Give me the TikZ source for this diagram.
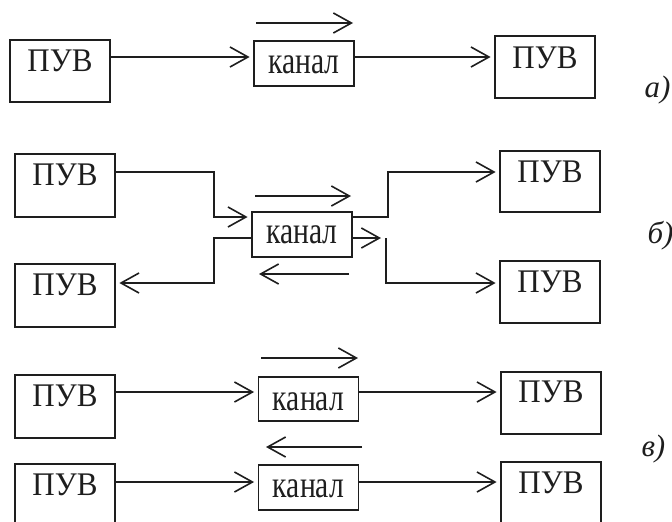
\documentclass[tikz,border=0pt]{standalone}
\usepackage{fontspec}
\setmainfont{Liberation Serif}
\usetikzlibrary{arrows.meta}
\definecolor{ink}{HTML}{1E1E1E}
\newcommand{\kanal}{\scalebox{0.78}[1]{канал}}
\newcommand{\puvtxt}{\scalebox{0.94}[1]{ПУВ}}
\begin{document}
\begin{tikzpicture}[x=1pt,y=-1pt,
  puv/.style={draw=ink, line width=1.8pt, inner sep=0pt, minimum width=100pt, anchor=base, text=ink, font=\fontsize{33}{33}\selectfont},
  kan/.style={draw=ink, line width=1.8pt, inner sep=0pt, minimum width=100pt, anchor=base, text=ink, font=\fontsize{38}{38}\selectfont},
  arr/.style={draw=ink, line width=1.6pt, -{Straight Barb[length=18pt,width=20pt]}, shorten >=3.5pt},
  free/.style={arr, shorten >=0pt},
  lbl/.style={anchor=base west, text=ink, font=\fontsize{31}{31}\selectfont\itshape}]
\useasboundingbox (0,0) rectangle (672,522);

% ---- a)
\node[puv, text height=31pt, text depth=31pt] (a1) at (60,71) {\puvtxt};
\node[kan, text height=32pt, text depth=13pt] (a2) at (304,73) {\kanal};
\node[puv, text height=32pt, text depth=30pt] (a3) at (545,68) {\puvtxt};
\coordinate (ya) at (0,57);
\draw[arr] (a1.east |- ya) -- (a2.west |- ya);
\draw[arr] (a2.east |- ya) -- (a3.west |- ya);
\coordinate (aos) at (256,23);
\coordinate (aoe) at (353,23);
\draw[free] (aos) -- (aoe);
\node[lbl] (la) at (641,97) {а)};

% ---- b)
\node[puv, text height=31pt, text depth=32pt] (b1) at (65,185) {\puvtxt};
\node[puv, text height=31pt, text depth=32pt] (b2) at (65,295) {\puvtxt};
\node[kan, text height=31pt, text depth=14pt] (bk) at (302,243) {\kanal};
\node[puv, text height=31pt, text depth=30pt] (b3) at (550,182) {\puvtxt};
\node[puv, text height=31pt, text depth=31pt] (b4) at (550,292) {\puvtxt};
\coordinate (y1) at (0,172);
\coordinate (y2) at (0,217);
\coordinate (y3) at (0,238);
\coordinate (y4) at (0,283);
\coordinate (xl) at (214,0);
\coordinate (xr) at (388,0);
\coordinate (xs) at (381,0);
\coordinate (bg) at (386,238);
\draw[arr] (b1.east |- y1) -| (xl |- y2) -- (bk.west |- y2);
\draw[arr] (bk.west |- y3) -| (xl |- y4) -- (b2.east |- y4);
\draw[arr] (bk.east |- y2) -| (xr |- y1) -- (b3.west |- y1);
\draw[free] (bk.east |- y3) -- (xs |- y3);
\draw[arr] (bg) |- (b4.west |- y4);
\coordinate (bos) at (255,196);
\coordinate (boe) at (351,196);
\coordinate (bus) at (349,274);
\coordinate (bue) at (259,274);
\draw[free] (bos) -- (boe);
\draw[free] (bus) -- (bue);
\node[lbl] (lb) at (644,243) {б)};

% ---- c)
\node[puv, text height=31pt, text depth=32pt] (c1) at (65,406) {\puvtxt};
\node[kan, text height=33pt, text depth=11pt] (c2) at (308.5,410) {\kanal};
\node[puv, text height=30pt, text depth=32pt] (c3) at (551,402) {\puvtxt};
\node[puv, text height=31pt, text depth=32pt] (c4) at (65,495) {\puvtxt};
\node[kan, text height=32pt, text depth=13pt] (c5) at (308.5,497) {\kanal};
\node[puv, text height=31pt, text depth=31pt] (c6) at (551,493) {\puvtxt};
\coordinate (yc1) at (0,392);
\coordinate (yc2) at (0,482);
\draw[arr] (c1.east |- yc1) -- (c2.west |- yc1);
\draw[arr] (c2.east |- yc1) -- (c3.west |- yc1);
\draw[arr] (c4.east |- yc2) -- (c5.west |- yc2);
\draw[arr] (c5.east |- yc2) -- (c6.west |- yc2);
\coordinate (cos) at (261,358);
\coordinate (coe) at (358,358);
\coordinate (cus) at (362,447);
\coordinate (cue) at (266,447);
\draw[free] (cos) -- (coe);
\draw[free] (cus) -- (cue);
\node[lbl] (lc) at (638,456) {в)};
\end{tikzpicture}
\end{document}
